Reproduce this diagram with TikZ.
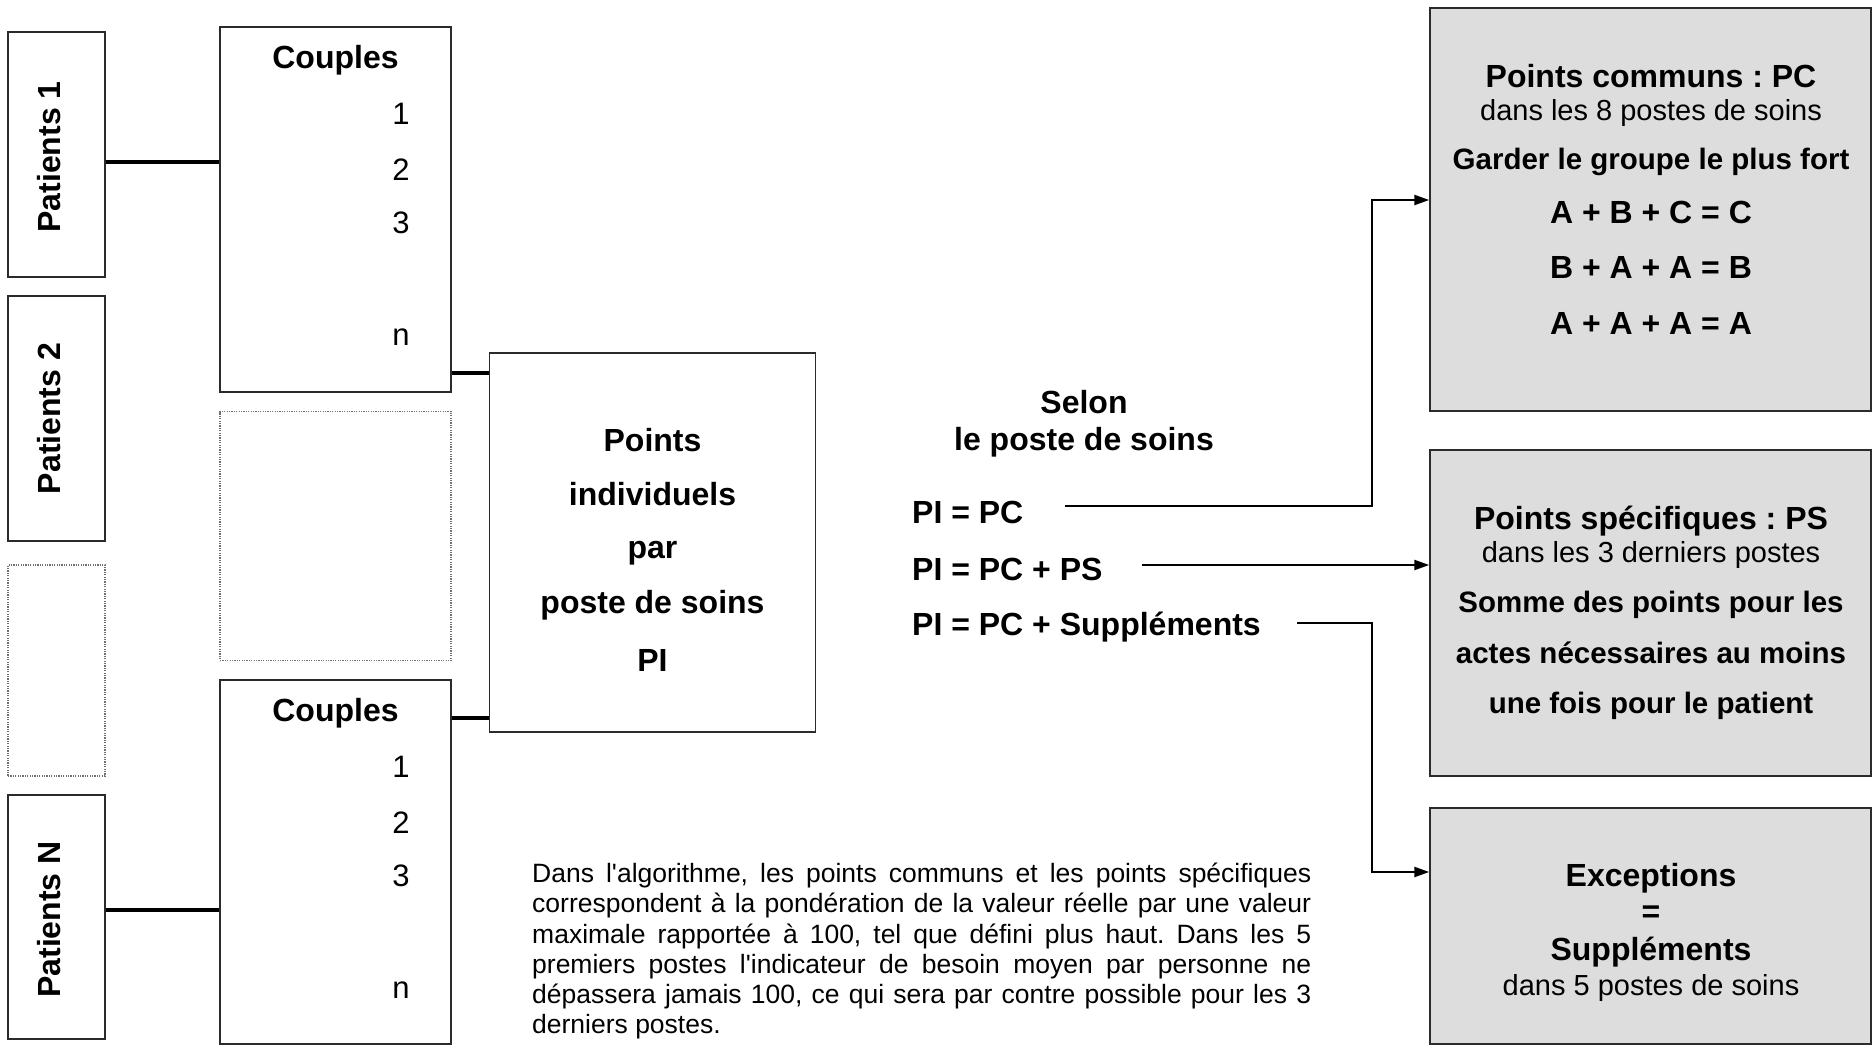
\documentclass[tikz,border=0pt]{standalone}
\usepackage{fontspec}
\setmainfont{Liberation Sans}
\usepackage{xcolor}
\usepackage{tikz}
\usetikzlibrary{arrows.meta, positioning, calc}
\definecolor{boxgray}{HTML}{DDDDDD}
\definecolor{edgegray}{HTML}{2B2B2B}
\definecolor{dotgray}{HTML}{707070}
\frenchspacing

\begin{document}
\begin{tikzpicture}[
    x=1pt, y=-1pt,
    box/.style={
        draw=edgegray, line width=1.5pt,
        rectangle, inner sep=0pt
    },
    dotbox/.style={
        draw=dotgray, line width=1.2pt, dash pattern=on 1.2pt off 1.2pt,
        rectangle, inner sep=0pt
    },
    graybox/.style={
        box, fill=boxgray, minimum width=441pt
    },
    title/.style={anchor=base, inner sep=0pt, font=\fontsize{32}{38}\selectfont\bfseries},
    sub/.style={anchor=base, inner sep=0pt, font=\fontsize{29}{34}\selectfont},
    lbl/.style={anchor=base, inner sep=0pt, font=\fontsize{29.5}{35}\selectfont\bfseries},
    num/.style={anchor=base, inner sep=0pt, font=\fontsize{31}{36}\selectfont},
    link/.style={line width=3.2pt, draw=black},
    arr/.style={
        -{Triangle[length=15pt, width=10pt]}, line width=2.4pt, draw=black
    },
]
\useasboundingbox (0,0) rectangle (1872,1045);

% patients column
\node[box, minimum width=97pt, minimum height=245pt] (pat1) at (56.5,154.5) {};
\node[box, minimum width=97pt, minimum height=245pt] (pat2) at (56.5,418.5) {};
\node[dotbox, minimum width=97pt, minimum height=211pt] (patdots) at (56.5,670.5) {};
\node[box, minimum width=97pt, minimum height=244pt] (patN) at (56.5,917) {};
\node[title, rotate=90, anchor=center] (pat1txt) at (49.5,157) {Patients 1};
\node[title, rotate=90, anchor=center] (pat2txt) at (49.5,418.5) {Patients 2};
\node[title, rotate=90, anchor=center] (patNtxt) at (49.5,919.5) {Patients N};

% couples column
\node[box, minimum width=231pt, minimum height=365pt] (cpl1) at (335.5,209.5) {};
\node[dotbox, minimum width=231pt, minimum height=249pt] (cpldots) at (335.5,536) {};
\node[box, minimum width=231pt, minimum height=364pt] (cplN) at (335.5,862) {};
\node[title] (cpl1txt) at (335.5,68) {Couples};
\node[num] (c1a) at (401,124) {1};
\node[num] (c1b) at (401,180) {2};
\node[num] (c1c) at (401,233) {3};
\node[num] (c1n) at (401,345) {n};
\node[title] (cplNtxt) at (335.5,721) {Couples};
\node[num] (cNa) at (401,777) {1};
\node[num] (cNb) at (401,833) {2};
\node[num] (cNc) at (401,886) {3};
\node[num] (cNn) at (401,998) {n};

% individual points
\node[box, minimum width=326pt, minimum height=379pt] (pibox) at (652.5,542.5) {};
\node[title] (pi1) at (652.5,451) {Points};
\node[title] (pi2) at (652.5,505) {individuels};
\node[title] (pi3) at (652.5,558) {par};
\node[title] (pi4) at (652.5,613) {poste de soins};
\node[title] (pi5) at (652.5,671) {PI};

\draw[link] (pat1.east |- 0,162) -- (cpl1.west |- 0,162);
\draw[link] (patN.east |- 0,910) -- (cplN.west |- 0,910);
\draw[link] (cpl1.east |- 0,373) -- (pibox.west |- 0,373);
\draw[link] (cplN.east |- 0,718) -- (pibox.west |- 0,718);

% selon le poste
\node[title] (selon) at (1084,413) {Selon};
\node[title] (selon2) at (1084,450) {le poste de soins};
\node[title, anchor=base west] (eqpc) at (912,523) {PI = PC};
\node[title, anchor=base west] (eqps) at (912,580) {PI = PC + PS};
\node[title, anchor=base west] (eqsup) at (912,635) {PI = PC + Suppléments};

% result boxes
\node[graybox, minimum height=403pt] (pcbox) at (1650.5,209.5) {};
\node[title] (pct) at (1651,87) {Points communs : PC};
\node[sub] (pcs) at (1651,120) {dans les 8 postes de soins};
\node[lbl] (pcg) at (1651,169) {Garder le groupe le plus fort};
\node[title] (pce1) at (1651,223) {A + B + C = C};
\node[title] (pce2) at (1651,278) {B + A + A = B};
\node[title] (pce3) at (1651,334) {A + A + A = A};

\node[graybox, minimum height=326pt] (psbox) at (1650.5,613) {};
\node[title] (pst) at (1651,529) {Points spécifiques : PS};
\node[sub] (pss) at (1651,562) {dans les 3 derniers postes};
\node[lbl] (psl1) at (1651,612) {Somme des points pour les};
\node[lbl] (psl2) at (1651,663) {actes nécessaires au moins};
\node[lbl] (psl3) at (1651,713) {une fois pour le patient};

\node[graybox, minimum height=236pt] (exbox) at (1650.5,926) {};
\node[title] (ext) at (1651,886) {Exceptions};
\node[title] (exeq) at (1651,922) {=};
\node[title] (exsup) at (1651,960) {Suppléments};
\node[sub] (exs) at (1651,995) {dans 5 postes de soins};

\coordinate (frompc) at (1065,506);
\coordinate (fromps) at (1142,565);
\coordinate (fromsup) at (1297,623);
\draw[arr] (frompc) -- (1372,506) |- (pcbox.west |- 0,200);
\draw[arr] (fromps) -- (psbox.west |- 0,565);
\draw[arr] (fromsup) -- (1372,623) |- (exbox.west |- 0,872);

% note
\node[anchor=north west, inner sep=0pt, text width=779pt, align=justify,
      font=\fontsize{26.5}{30.2}\selectfont] (note) at (532,863) {Dans l\textquotesingle algorithme, les points communs et les points spécifiques\linebreak
correspondent à la pondération de la valeur réelle par une valeur\linebreak
maximale rapportée à 100, tel que défini plus haut. Dans les 5\linebreak
premiers postes l\textquotesingle indicateur de besoin moyen par personne ne\linebreak
dépassera jamais 100, ce qui sera par contre possible pour les 3\linebreak
derniers postes.};
\end{tikzpicture}
\end{document}
